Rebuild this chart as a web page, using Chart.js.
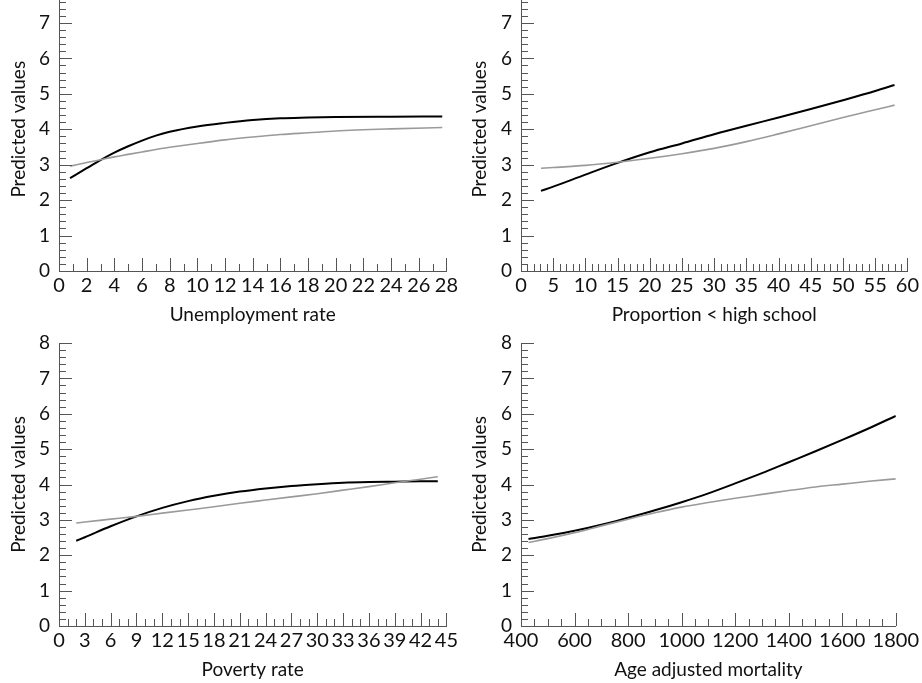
<!DOCTYPE html>
<html>
<head>
<meta charset="utf-8">
<script src="https://cdn.jsdelivr.net/npm/chart.js@4.4.1/dist/chart.umd.min.js"></script>
<style>
    html, body { margin: 0; padding: 0; background: #fff; overflow: hidden; }
    body { width: 922px; height: 683px; position: relative; }
    canvas { position: absolute; }
</style>
</head>
<body>
<canvas id="c-unemp"   width="461" height="363" style="left:0;top:-35px"></canvas>
<canvas id="c-school"  width="461" height="363" style="left:461px;top:-35px"></canvas>
<canvas id="c-poverty" width="461" height="363" style="left:0;top:320px"></canvas>
<canvas id="c-mort"    width="461" height="363" style="left:461px;top:320px"></canvas>
<script>
// Valores
var unempX     = [0.8, 2, 3, 4, 5, 6, 7, 8, 10, 12, 14, 16, 18, 20, 24, 27.7];
var unempBlack = [2.62, 2.9, 3.13, 3.34, 3.52, 3.68, 3.82, 3.93, 4.08, 4.18, 4.26, 4.31, 4.33, 4.345, 4.355, 4.36];
var unempGrey  = [2.96, 3.06, 3.14, 3.22, 3.29, 3.36, 3.43, 3.49, 3.6, 3.7, 3.78, 3.85, 3.9, 3.95, 4.01, 4.05];

var schoolX     = [3.1, 5, 10, 15, 20, 25, 30, 35, 40, 45, 50, 55, 58];
var schoolBlack = [2.26, 2.38, 2.72, 3.05, 3.35, 3.6, 3.86, 4.1, 4.33, 4.57, 4.82, 5.08, 5.25];
var schoolGrey  = [2.9, 2.92, 2.98, 3.07, 3.18, 3.31, 3.46, 3.65, 3.87, 4.1, 4.33, 4.55, 4.68];

var povX     = [2, 3, 6, 9, 12, 15, 18, 21, 24, 27, 30, 33, 36, 39, 42, 44];
var povBlack = [2.41, 2.51, 2.82, 3.1, 3.34, 3.53, 3.68, 3.8, 3.89, 3.96, 4.01, 4.05, 4.07, 4.08, 4.09, 4.09];
var povGrey  = [2.91, 2.94, 3.02, 3.1, 3.19, 3.28, 3.37, 3.47, 3.56, 3.65, 3.74, 3.84, 3.94, 4.05, 4.15, 4.22];

var mortX     = [428, 500, 600, 700, 800, 900, 1000, 1100, 1200, 1300, 1400, 1500, 1600, 1700, 1800];
var mortBlack = [2.46, 2.55, 2.69, 2.86, 3.06, 3.27, 3.5, 3.75, 4.03, 4.32, 4.63, 4.94, 5.26, 5.59, 5.94];
var mortGrey  = [2.36, 2.47, 2.64, 2.83, 3.02, 3.2, 3.36, 3.49, 3.61, 3.72, 3.83, 3.93, 4.01, 4.09, 4.16];

var yMin = 0, yMax = 8, yMajor = 1, yMinor = 0.2;

var FONT = 'Lato, "DejaVu Sans", sans-serif';
var AXIS = '#555';

function pts(xs, ys) {
    return xs.map(function (x, i) { return { x: x, y: ys[i] }; });
}

// Marcas internas (maiores e menores) nos dois eixos
var inwardTicks = {
    id: 'inwardTicks',
    afterDraw: function (chart, args, opts) {
        var ctx = chart.ctx, xs = chart.scales.x, ys = chart.scales.y;
        var area = chart.chartArea;
        ctx.save();
        ctx.strokeStyle = AXIS;
        ctx.lineWidth = 1;
        ctx.beginPath();
        var n = Math.round((opts.xMax - opts.xMin) / opts.xMinor);
        for (var i = 1; i <= n; i++) {
            var v = opts.xMin + i * opts.xMinor;
            var r = (v - opts.xMin) / opts.xMajor;
            var major = Math.abs(r - Math.round(r)) < 1e-6;
            var px = Math.round(xs.getPixelForValue(v)) + 0.5;
            ctx.moveTo(px, area.bottom);
            ctx.lineTo(px, area.bottom - (major ? 13 : 7));
        }
        var m = Math.round((yMax - yMin) / yMinor);
        for (var j = 1; j <= m; j++) {
            var w = yMin + j * yMinor;
            var majorY = Math.abs(w / yMajor - Math.round(w / yMajor)) < 1e-6;
            var py = Math.round(ys.getPixelForValue(w)) + 0.5;
            ctx.moveTo(area.left, py);
            ctx.lineTo(area.left + (majorY ? 13 : 7), py);
        }
        ctx.stroke();
        ctx.restore();
    }
};

function makePanel(id, cfg) {
    new Chart(document.getElementById(id), {
        type: 'scatter',
        data: {
            datasets: [
                {
                    data: pts(cfg.xs, cfg.grey),
                    showLine: true,
                    borderColor: '#9a9a9a',
                    borderWidth: 1.6,
                    pointRadius: 0,
                    cubicInterpolationMode: 'monotone',
                },
                {
                    data: pts(cfg.xs, cfg.black),
                    showLine: true,
                    borderColor: '#000',
                    borderWidth: 2,
                    pointRadius: 0,
                    cubicInterpolationMode: 'monotone',
                },
            ],
        },
        options: {
            responsive: false,
            animation: false,
            layout: { padding: { top: cfg.padTop, right: cfg.padRight, left: 0, bottom: 0 } },
            plugins: {
                legend: { display: false },
                tooltip: { enabled: false },
                inwardTicks: { xMin: cfg.xMin, xMax: cfg.xMax, xMajor: cfg.xMajor, xMinor: cfg.xMinor },
            },
            scales: {
                x: {
                    type: 'linear',
                    min: cfg.xMin,
                    max: cfg.xMax,
                    afterFit: function (s) { s.height = 57; },
                    grid: { display: false, drawTicks: false },
                    border: { display: true, color: AXIS, width: 1 },
                    ticks: {
                        stepSize: cfg.xMajor,
                        autoSkip: false,
                        maxRotation: 0,
                        padding: 3,
                        color: '#111',
                        font: { family: FONT, size: 20 },
                        callback: function (v) { return String(v); },
                    },
                    title: {
                        display: true,
                        text: cfg.title,
                        color: '#111',
                        padding: { top: 2, bottom: 2 },
                        font: { family: FONT, size: 19 },
                    },
                },
                y: {
                    min: yMin,
                    max: yMax,
                    afterFit: function (s) { s.width = cfg.yWidth; },
                    grid: { display: false, drawTicks: false },
                    border: { display: true, color: AXIS, width: 1 },
                    ticks: {
                        stepSize: yMajor,
                        padding: 9,
                        color: '#111',
                        font: { family: FONT, size: 19 },
                    },
                    title: {
                        display: true,
                        text: 'Predicted values',
                        color: '#111',
                        padding: { top: 7, bottom: 0 },
                        font: { family: FONT, size: 19 },
                    },
                },
            },
        },
        plugins: [inwardTicks],
    });
}

makePanel('c-unemp', {
    xs: unempX, black: unempBlack, grey: unempGrey,
    xMin: 0, xMax: 28, xMajor: 2, xMinor: 1,
    title: 'Unemployment rate', padTop: 22.5, padRight: 14, yWidth: 59,
});
makePanel('c-school', {
    xs: schoolX, black: schoolBlack, grey: schoolGrey,
    xMin: 0, xMax: 60, xMajor: 5, xMinor: 1,
    title: 'Proportion < high school', padTop: 22.5, padRight: 13, yWidth: 60,
});
makePanel('c-poverty', {
    xs: povX, black: povBlack, grey: povGrey,
    xMin: 0, xMax: 45, xMajor: 3, xMinor: 1,
    title: 'Poverty rate', padTop: 23, padRight: 14, yWidth: 59,
});
makePanel('c-mort', {
    xs: mortX, black: mortBlack, grey: mortGrey,
    xMin: 400, xMax: 1800, xMajor: 200, xMinor: 50,
    title: 'Age adjusted mortality', padTop: 23, padRight: 23, yWidth: 60,
});
</script>
</body>
</html>
